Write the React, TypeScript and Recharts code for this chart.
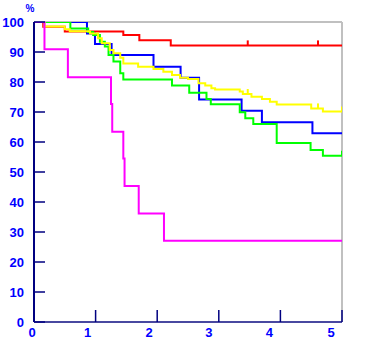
import React from 'react';
import {
  ComposedChart,
  Line,
  Scatter,
  XAxis,
  YAxis,
  ReferenceLine,
} from 'recharts';

// survival curves: step start times (years) and % surviving from that time
const RED_T = [0, 0.15, 0.5, 1.45, 1.71, 2.22, 5];
const RED_V = [100, 98.4, 96.8, 95.7, 93.9, 92.2, 92.2];

const BLUE_T = [0, 0.86, 0.99, 1.26, 1.94, 2.38, 2.68, 3.37, 3.7, 4.52, 5];
const BLUE_V = [100, 96.2, 92.7, 89, 85.1, 81.4, 74.2, 70.4, 66.6, 62.9, 62.9];

const YELLOW_T = [
  0, 0.17, 0.5, 0.58, 0.91, 1.04, 1.1, 1.23, 1.29, 1.4, 1.45, 1.69, 1.94, 2.1, 2.24,
  2.37, 2.5, 2.67, 2.78, 2.88, 2.94, 3.34, 3.39, 3.53, 3.7, 3.83, 3.94, 4.5, 4.69, 5,
];
const YELLOW_V = [
  100, 98.5, 97.6, 96.9, 96.2, 94.6, 92.9, 90.7, 89.6, 88.1, 86.2, 85.1, 84.3, 83.4, 82.3,
  81.4, 81, 79.6, 78.8, 77.9, 77.5, 76.8, 76, 75.1, 74.3, 73.4, 72.5, 71.2, 70.2, 70.2,
];

const GREEN_T = [
  0, 0.59, 0.88, 0.96, 1.07, 1.15, 1.21, 1.29, 1.4, 1.45, 2.24, 2.52, 2.8, 2.87, 3.34,
  3.43, 3.56, 3.94, 4.49, 4.69, 5,
];
const GREEN_V = [
  100, 97.8, 96.7, 95.7, 93.4, 91.8, 89, 86.8, 82.9, 80.8, 78.8, 76.4, 74.3, 72.6, 69.9,
  67.9, 66, 59.7, 57.3, 55.4, 55.4,
];

const MAGENTA_T = [0, 0.17, 0.55, 1.25, 1.27, 1.45, 1.47, 1.7, 2.11, 5];
const MAGENTA_V = [100, 90.9, 81.6, 72.7, 63.4, 54.5, 45.3, 36.2, 27.1, 27.1];

// censored observations
const RED_CENS_T = [3.47, 4.61];
const RED_CENS_V = [92.2, 92.2];
const YELLOW_CENS_T = [3.47, 4.61, 5];
const YELLOW_CENS_V = [76, 71.2, 70.2];
const GREEN_CENS_T = [5];
const GREEN_CENS_V = [55.4];

const X_TICKS = [0, 1, 2, 3, 4, 5];
const Y_TICKS = [0, 10, 20, 30, 40, 50, 60, 70, 80, 90, 100];

const toRows = (t: number[], v: number[]) => t.map((x, i) => ({ t: x, v: v[i] }));

const series = [
  { key: 'red', color: '#ff0000', data: toRows(RED_T, RED_V) },
  { key: 'blue', color: '#0000ff', data: toRows(BLUE_T, BLUE_V) },
  { key: 'green', color: '#00ff00', data: toRows(GREEN_T, GREEN_V) },
  { key: 'yellow', color: '#ffff00', data: toRows(YELLOW_T, YELLOW_V) },
  { key: 'magenta', color: '#ff00ff', data: toRows(MAGENTA_T, MAGENTA_V) },
];

const censored = [
  { key: 'red-c', color: '#ff0000', data: toRows(RED_CENS_T, RED_CENS_V) },
  { key: 'yellow-c', color: '#ffff00', data: toRows(YELLOW_CENS_T, YELLOW_CENS_V) },
  { key: 'green-c', color: '#00ff00', data: toRows(GREEN_CENS_T, GREEN_CENS_V) },
];

const AXIS = '#000080';
const LABEL_FONT = { fontFamily: '"Liberation Sans", Arial, sans-serif', fontWeight: 700, fontSize: 13 };
const X_LABEL_DX = [-2, -8, -8, -10, -11, -11];

const YTick = (props: any) => {
  const { x, y, payload } = props;
  return (
    <g>
      <line x1={x} x2={x + 11} y1={y} y2={y} stroke={AXIS} strokeWidth={1.5} />
      <text x={x - 10} y={y + 5} textAnchor="end" fill="#0000ff" style={LABEL_FONT}>
        {payload.value}
      </text>
    </g>
  );
};

const XTick = (props: any) => {
  const { x, y, payload, index } = props;
  return (
    <g>
      {payload.value > 0 && <line x1={x} x2={x} y1={y} y2={y - 12} stroke={AXIS} strokeWidth={1.5} />}
      <text x={x + (X_LABEL_DX[index] ?? 0)} y={y + 15} textAnchor="middle" fill="#0000ff" style={LABEL_FONT}>
        {payload.value}
      </text>
    </g>
  );
};

const CensorMark = (props: any) => {
  const { cx, cy, fill } = props;
  return <line x1={cx} x2={cx} y1={cy} y2={cy - 5} stroke={fill} strokeWidth={2} />;
};

export default function App() {
  return (
    <div style={{ position: 'absolute', left: 0, top: 0, background: '#fff' }}>
      <ComposedChart width={365} height={356} margin={{ top: 22, right: 23, bottom: 14, left: 0 }}>
        <XAxis
          type="number"
          dataKey="t"
          domain={[0, 5]}
          ticks={X_TICKS}
          height={20}
          tickSize={0}
          tickMargin={0}
          tick={<XTick />}
          axisLine={{ stroke: '#4848a0', strokeWidth: 2 }}
          allowDataOverflow
        />
        <YAxis
          type="number"
          domain={[0, 100]}
          ticks={Y_TICKS}
          width={34}
          tickSize={0}
          tickMargin={0}
          tick={<YTick />}
          axisLine={{ stroke: AXIS, strokeWidth: 2 }}
          allowDataOverflow
        />
        <ReferenceLine y={100} stroke="#c0c0c0" strokeWidth={2} />
        <ReferenceLine x={5} stroke="#c0c0c0" strokeWidth={2} />
        {series.map((s) => (
          <Line
            key={s.key}
            data={s.data}
            dataKey="v"
            type="stepAfter"
            stroke={s.color}
            strokeWidth={2}
            dot={false}
            activeDot={false}
            isAnimationActive={false}
          />
        ))}
        {censored.map((c) => (
          <Scatter
            key={c.key}
            data={c.data}
            dataKey="v"
            fill={c.color}
            shape={<CensorMark />}
            isAnimationActive={false}
          />
        ))}
        <text x={30} y={12} textAnchor="middle" fill="#0000ff" style={{ ...LABEL_FONT, fontSize: 10 }}>
          %
        </text>
      </ComposedChart>
    </div>
  );
}
